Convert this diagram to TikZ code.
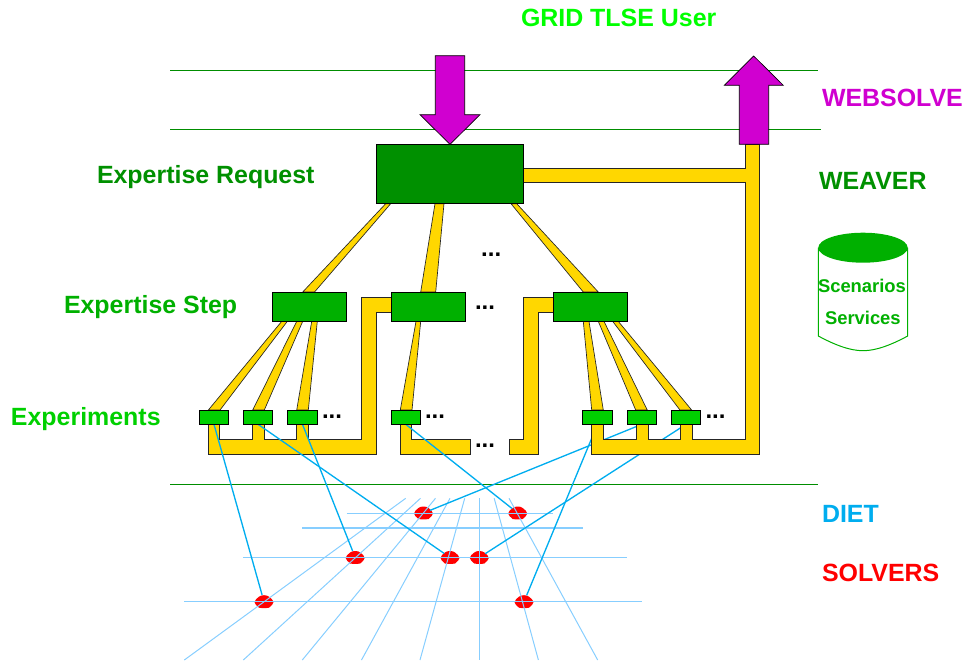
\documentclass[tikz,border=0pt]{standalone}
\usepackage{fontspec}
\setmainfont{Liberation Sans}
\usetikzlibrary{calc}
\definecolor{GreenA}{HTML}{00FF00}
\definecolor{GreenB}{HTML}{00D000}
\definecolor{GreenC}{HTML}{00B000}
\definecolor{GreenD}{HTML}{009000}
\definecolor{MagC}{HTML}{D000D0}
\definecolor{Pipe}{HTML}{FFD700}
\definecolor{LtBlue}{HTML}{87CEFF}
\tikzset{
  lab/.style={anchor=base west,inner sep=0pt,outer sep=0pt,font=\fontsize{18.7}{22}\selectfont\bfseries},
  smalllab/.style={anchor=base west,inner sep=0pt,outer sep=0pt,text=GreenC,font=\fontsize{13.8}{16}\selectfont\bfseries},
  moredots/.style={anchor=base,inner sep=0pt,outer sep=0pt,font=\fontsize{18}{20}\selectfont\bfseries},
  boxbase/.style={draw=black,line width=0.6pt,inner sep=0pt,outer sep=0pt},
  topbox/.style={boxbase,fill=GreenD,minimum width=110.5pt,minimum height=44.5pt},
  stepbox/.style={boxbase,fill=GreenC,minimum width=55.5pt,minimum height=22pt},
  expbox/.style={boxbase,fill=GreenB,minimum width=22.1pt,minimum height=10.7pt},
  pipe/.style={draw=black!85,line width=0.5pt,fill=Pipe,line join=miter},
  link/.style={draw=cyan,line width=1pt,shorten >=5.25pt},
  grid/.style={draw=LtBlue,line width=0.75pt},
  band/.style={draw=GreenC!80!black,line width=0.6pt},
  bigarrow/.style={draw=black,line width=0.5pt,fill=MagC},
}
\newcommand{\taper}[6]{\draw[pipe] (#2,0 |- #1.south) -- (#3,0 |- #1.south) -- (#6,0 |- #4.north) -- (#5,0 |- #4.north) -- cycle;}
\newcommand{\blob}[3]{%
  \coordinate (#1) at (#2,#3);
  \fill[red,shift={(#1)}] (-9.5,0.5) .. controls (-9.5,-2) and (-7,-3) .. (-5,-5)
    .. controls (-3,-7) and (3,-7) .. (5,-5)
    .. controls (7,-3) and (9.5,-2) .. (9.5,0.5)
    .. controls (9.5,3) and (7,3.5) .. (5,6)
    .. controls (3,6.5) and (-3,6.5) .. (-5,6)
    .. controls (-7,3.5) and (-9.5,3) .. (-9.5,0.5) -- cycle;}
\begin{document}
\begin{tikzpicture}[x=0.75pt,y=-0.75pt]
\useasboundingbox (0,0) rectangle (968,662);
% bands
\draw[band] (170,70.5) -- (818,70.5);
\draw[band] (170,129.5) -- (821,129.5);
\draw[band] (170,484) -- (818,484);
% solvers
\blob{s1}{423.5}{513}
\blob{s2}{517.7}{513}
\blob{s3}{355.2}{557.5}
\blob{s4}{450}{557.5}
\blob{s5}{479.3}{557.5}
\blob{s6}{264}{601.7}
\blob{s7}{524}{601.7}
% grid
\draw[grid] (346.7,513) -- (553.3,513);
\draw[grid,line width=1pt] (302.3,528) -- (582.7,528);
\draw[grid] (243.3,557.3) -- (626.7,557.3);
\draw[grid,line width=1pt] (184.3,601.7) -- (641.7,601.7);
\foreach \a/\b in {405.7/184.3,420.5/243.3,435.5/302.3,450/361.5,464.7/420,479.3/479.3,494.2/538.4,509/597.7}
  \draw[grid] (\a,498.3) -- (\b,660);
% boxes (positions)
\node[topbox] (req) at (450,174) {};
\node[stepbox] (st1) at (309.7,306.7) {};
\node[stepbox] (st2) at (428,306.7) {};
\node[stepbox] (st3) at (590.2,306.7) {};
\node[expbox] (e1) at (214,417.2) {};
\node[expbox] (e2) at (258.1,417.2) {};
\node[expbox] (e3) at (302.5,417.2) {};
\node[expbox] (e4) at (405.8,417.2) {};
\node[expbox] (e5) at (597.5,417.2) {};
\node[expbox] (e6) at (641.8,417.2) {};
\node[expbox] (e7) at (686,417.2) {};
% links under the pipes
\draw[link] (e5.south) -- (s7);
\draw[link] (e6.south) -- (s1);
\draw[link] (e7.south) -- (s5);
% tapered pipes
\taper{req}{385.7}{390.7}{st1}{302.7}{314.5}
\taper{req}{435}{444}{st2}{420.7}{435.7}
\taper{req}{511}{516.7}{st3}{583.3}{598.3}
\taper{st1}{281.7}{287.3}{e1}{208.3}{220}
\taper{st1}{296.7}{302.7}{e2}{252.7}{264.3}
\taper{st1}{311.7}{317.3}{e3}{296.7}{308.3}
\taper{st2}{416}{420.7}{e4}{400.3}{412}
\taper{st3}{583.3}{589}{e5}{591.7}{603.3}
\taper{st3}{598.3}{604}{e6}{635.7}{647.3}
\taper{st3}{612.7}{618.3}{e7}{680}{691.7}
% collecting pipes
\draw[pipe] (391,297.7) -- (361.7,297.7) -- (361.7,439.3) -- (308.7,439.3) -- (308.7,424.3) -- (296.7,424.3) -- (296.7,439.3)
  -- (264.3,439.3) -- (264.3,424.3) -- (252.7,424.3) -- (252.7,439.3) -- (219.3,439.3) -- (219.3,424.3) -- (208,424.3)
  -- (208,454) -- (376.3,454) -- (376.3,312.3) -- (391,312.3) -- cycle;
\draw[pipe] (400,424.3) -- (400,454) -- (470.7,454) -- (470.7,439.3) -- (411.7,439.3) -- (411.7,424.3) -- cycle;
\draw[pipe] (553.3,297.7) -- (523.7,297.7) -- (523.7,439.3) -- (509,439.3) -- (509,454) -- (538.3,454) -- (538.3,312.3) -- (553.3,312.3) -- cycle;
\draw[pipe] (523.7,168) -- (745,168) -- (745,144.3) -- (759.7,144.3) -- (759.7,454) -- (591.7,454) -- (591.7,424.3) -- (603.3,424.3)
  -- (603.3,439.3) -- (636,439.3) -- (636,424.3) -- (648,424.3) -- (648,439.3) -- (680.3,439.3) -- (680.3,424.3) -- (692,424.3)
  -- (692,439.3) -- (745,439.3) -- (745,182.7) -- (523.7,182.7) -- cycle;
% links over the pipes
\draw[link] (e1.south) -- (s6);
\draw[link] (e2.south) -- (s4);
\draw[link] (e3.south) -- (s3);
\draw[link] (e4.south) -- (s2);
% redraw boxes on top
\node[topbox] at (req) {};
\node[stepbox] at (st1) {};
\node[stepbox] at (st2) {};
\node[stepbox] at (st3) {};
\foreach \n in {e1,e2,e3,e4,e5,e6,e7} \node[expbox] at (\n) {};
% arrows
\draw[bigarrow,shift={(req.north)}] (0,0) -- (-30,-29.6) -- (-14.7,-29.6) -- (-14.7,-88.6) -- (14.7,-88.6) -- (14.7,-29.6) -- (30,-29.6) -- cycle;
\coordinate (upbase) at (754,144.3);
\draw[bigarrow,shift={(upbase)}] (-14.7,0) -- (-14.7,-59) -- (-29.7,-59) -- (-0.3,-88.3) -- (29.3,-59) -- (14.7,-59) -- (14.7,0) -- cycle;
% database
\draw[draw=GreenC,line width=0.75pt,fill=white] (818.3,247.7) -- (818.3,336) .. controls (835,345) and (850,350.7) .. (863,350.7)
  .. controls (876,350.7) and (891,345) .. (907.7,336) -- (907.7,247.7);
\fill[GreenC] (863,247.7) ellipse [x radius=44.7,y radius=15];
\node[smalllab] (sc) at (818,292) {Scenarios};
\node[smalllab] (sv) at (825,324) {Services};
% labels
\node[lab,text=GreenA] (l1) at (521,26) {GRID TLSE User};
\node[lab,text=MagC] (l2) at (822,106) {WEBSOLVE};
\node[lab,text=GreenD] (l3) at (819,189) {WEAVER};
\node[lab,text=GreenD] (l4) at (97,183) {Expertise Request};
\node[lab,text=GreenC] (l5) at (64,313) {Expertise Step};
\node[lab,text=GreenB] (l6) at (11,425) {Experiments};
\node[lab,text=cyan] (l7) at (822,522) {DIET};
\node[lab,text=red] (l8) at (822,581) {SOLVERS};
% ellipses
\node[moredots] (d1) at (491.2,256) {...};
\node[moredots] (d2) at (485,309) {...};
\node[moredots] (d3) at (332,418) {...};
\node[moredots] (d4) at (435,418) {...};
\node[moredots] (d5) at (715.5,418) {...};
\node[moredots] (d6) at (485,447.5) {...};
\end{tikzpicture}
\end{document}
